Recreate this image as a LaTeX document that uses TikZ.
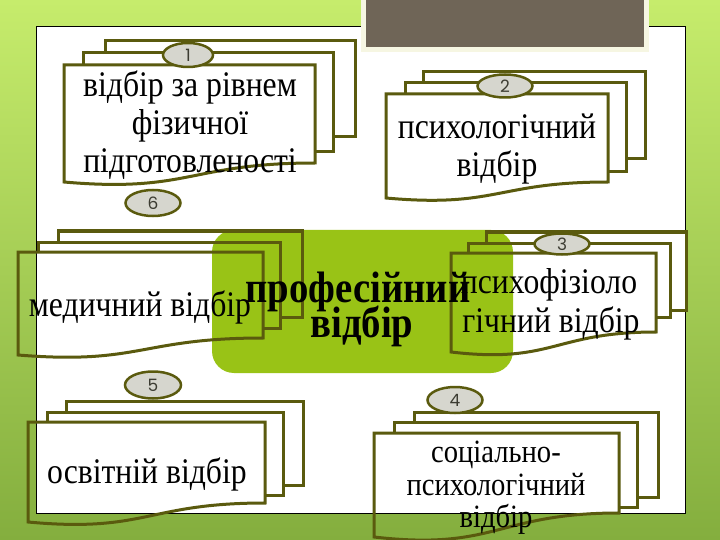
\documentclass[tikz,border=0pt]{standalone}
\usepackage{fontspec}
\setmainfont{Liberation Serif}
\newfontfamily\tallfont[FakeStretch=0.88]{Liberation Serif}
\newfontfamily\numfont{Poppins}
\usetikzlibrary{shapes.geometric}
\definecolor{docolive}{RGB}{90,90,14}
\definecolor{limeA}{RGB}{198,236,108}
\definecolor{greenB}{RGB}{132,174,62}
\definecolor{slate}{RGB}{111,101,87}
\definecolor{cream}{RGB}{246,246,226}
\definecolor{centergreen}{RGB}{153,195,22}
\definecolor{ovalgray}{RGB}{214,214,206}
\definecolor{numgray}{RGB}{60,60,50}
\begin{document}
\begin{tikzpicture}[x=1pt,y=-1pt,
  docline/.style={draw=docolive,line width=3pt,line join=miter},
  numoval/.style={ellipse,draw=docolive,line width=2.5pt,fill=ovalgray,inner sep=0pt,
    font=\numfont\fontsize{17}{17}\selectfont,text=numgray},
  lbl/.style={font=\tallfont\fontsize{36}{38}\selectfont,anchor=base,inner sep=0pt},
  lblsmall/.style={font=\tallfont\fontsize{32.5}{33}\selectfont,anchor=base,inner sep=0pt},
  lblbold/.style={font=\tallfont\bfseries\fontsize{44}{40}\selectfont,anchor=base,inner sep=0pt}]
\useasboundingbox (0,0) rectangle (720,540);
% background
\fill[top color=limeA,bottom color=greenB] (0,0) rectangle (720,540);
% white panel
\draw[fill=white,draw=black,line width=0.8pt] (36,26) rectangle (685,513);
% dark title block
\draw[fill=slate,draw=cream,line width=5pt] (363,-5) rectangle (646,50);
% central green block
\fill[centergreen,rounded corners=22pt] (212,230) rectangle (513,373);

% box 1
\draw[docline] (315,163) -- (315,65) -- (64,65) -- (64,182) .. controls (189.5,193) and (189.5,163) .. (315,163) -- cycle;
\draw[docline] (83,65) -- (83,53) -- (333,53) -- (333,152) -- (315,152);
\draw[docline] (105,53) -- (105,41) -- (355,41) -- (355,137) -- (333,137);
% box 2
\draw[docline] (608,182) -- (608,94) -- (386,94) -- (386,198) .. controls (497,208) and (497,182) .. (608,182) -- cycle;
\draw[docline] (405,94) -- (405,83) -- (626,83) -- (626,172) -- (608,172);
\draw[docline] (423,83) -- (423,72) -- (645,72) -- (645,159) -- (626,159);
% medical box
\draw[docline] (263,338) -- (263,252) -- (18,252) -- (18,355) .. controls (140.5,365) and (140.5,338) .. (263,338) -- cycle;
\draw[docline] (38,252) -- (38,242) -- (280,242) -- (280,328) -- (263,328);
\draw[docline] (58,242) -- (58,231) -- (302,231) -- (302,317) -- (280,317);
% box 3
\draw[docline] (656,332) -- (656,253) -- (451,253) -- (451,352) .. controls (553.5,364) and (553.5,332) .. (656,332) -- cycle;
\draw[docline] (468,253) -- (468,243) -- (670,243) -- (670,317) -- (656,317);
\draw[docline] (486,243) -- (486,232) -- (686,232) -- (686,310) -- (670,310);
% box 5
\draw[docline] (265,503) -- (265,422) -- (28,422) -- (28,522) .. controls (146.5,533) and (146.5,503) .. (265,503) -- cycle;
\draw[docline] (47,422) -- (47,412) -- (283,412) -- (283,495) -- (265,495);
\draw[docline] (66,412) -- (66,401) -- (303,401) -- (303,485) -- (283,485);
% box 4
\draw[docline] (619,513) -- (619,433) -- (374,433) -- (374,537) .. controls (496.5,551) and (496.5,513) .. (619,513) -- cycle;
\draw[docline] (394,433) -- (394,422) -- (637,422) -- (637,507) -- (619,507);
\draw[docline] (414,422) -- (414,412) -- (658,412) -- (658,497) -- (637,497);

% number ovals
\node[numoval,minimum width=50pt,minimum height=24pt] (n1) at (188,55) {1};
\node[numoval,minimum width=55pt,minimum height=23pt] (n2) at (505,86) {2};
\node[numoval,minimum width=55pt,minimum height=21pt] (n3) at (562,244) {3};
\node[numoval,minimum width=55pt,minimum height=26pt] (n6) at (153,203) {6};
\node[numoval,minimum width=56pt,minimum height=27pt] (n5) at (153,385) {5};
\node[numoval,minimum width=55pt,minimum height=26pt] (n4) at (455,400) {4};

% texts
\node[lbl] (t1a) at (190,97) {відбір за рівнем};
\node[lbl] (t1b) at (190,135) {фізичної};
\node[lbl] (t1c) at (190,173) {підготовленості};
\node[lbl] (t2a) at (497,139) {психологічний};
\node[lbl] (t2b) at (497,177) {відбір};
\node[lbl] (tm) at (140,316) {медичний відбір};
\node[lbl] (t3a) at (549,293) {психофізіоло};
\node[lbl] (t3b) at (551,332) {гічний відбір};
\node[lbl] (t5) at (147,483) {освітній відбір};
\node[lblsmall] (t4a) at (496,462) {соціально-};
\node[lblsmall] (t4b) at (496,495) {психологічний};
\node[lblsmall] (t4c) at (496,527) {відбір};
\node[lblbold] (c1) at (358,302) {професійний};
\node[lblbold] (c2) at (362,337) {відбір};
\end{tikzpicture}
\end{document}
